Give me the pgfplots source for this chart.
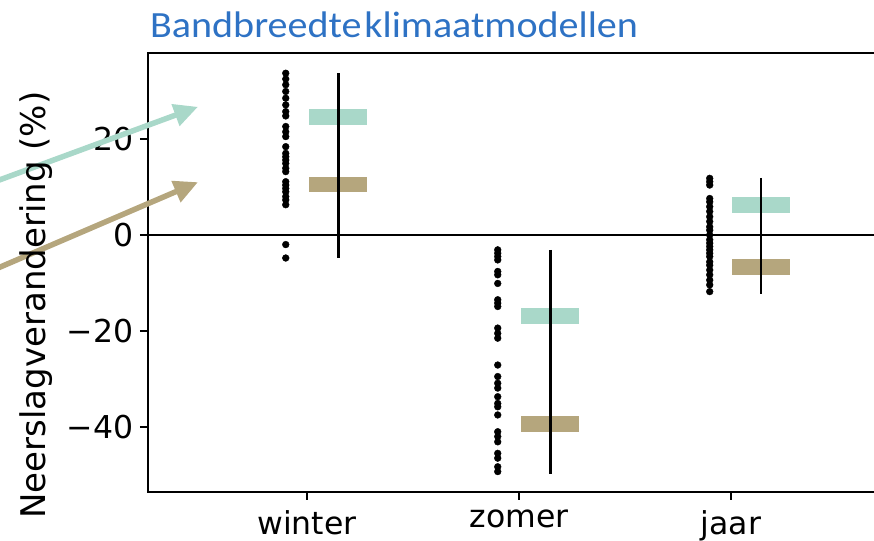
\documentclass[border=0pt]{standalone}
\usepackage{fontspec}
\setmainfont{DejaVu Sans}
\newfontfamily\titlefont{Carlito}
\usepackage{pgfplots}
\pgfplotsset{compat=1.18}
\usetikzlibrary{arrows.meta}
\definecolor{mteal}{RGB}{169,216,201}
\definecolor{mtan}{RGB}{181,166,125}
\definecolor{tblue}{RGB}{46,114,196}
\begin{document}
\begin{tikzpicture}
\begin{axis}[
  scale only axis, width=731.4pt, height=438.7pt,
  xmin=-0.75, xmax=2.7, ymin=-53.5, ymax=37.9,
  xtick={0,1,2}, xticklabels={winter,zomer,jaar},
  ytick={-40,-20,0,20}, yticklabels={−40,−20,0,20},
  tick label style={font=\fontsize{31.5}{38}\selectfont, black},
  /pgf/number format/assume math mode=true,
  axis line style={line width=2pt, black},
  tick style={line width=2pt, black},
  major tick length=8pt, tick align=outside,
  xtick pos=bottom, ytick pos=left,
  yticklabel style={xshift=-3pt},
  xticklabel style={yshift=-7pt},
  clip=false,
]
% zero line
\addplot[black, line width=2pt] coordinates {(-0.75,0) (2.7,0)};
% dots
\addplot[only marks, mark=*, mark size=3.4pt, black] coordinates {
(-0.1,33.7) (-0.1,32.5) (-0.1,31.3) (-0.1,29.9) (-0.1,28.5) (-0.1,27.1) (-0.1,25.7) (-0.1,24.8)
(-0.1,22.6) (-0.1,21.5) (-0.1,20.5) (-0.1,18.4) (-0.1,17.0) (-0.1,16.3) (-0.1,15.6) (-0.1,14.9)
(-0.1,13.9) (-0.1,13.2) (-0.1,11.1) (-0.1,10.4) (-0.1,9.7) (-0.1,9.0) (-0.1,8.0) (-0.1,7.3)
(-0.1,6.3) (-0.1,-2.0) (-0.1,-4.8)};
\addplot[only marks, mark=*, mark size=3.4pt, black] coordinates {
(0.9,-3.1) (0.9,-3.8) (0.9,-4.5) (0.9,-5.2) (0.9,-7.6) (0.9,-8.3) (0.9,-10.1) (0.9,-13.5)
(0.9,-14.2) (0.9,-14.9) (0.9,-19.4) (0.9,-20.5) (0.9,-21.5) (0.9,-27.1) (0.9,-29.5) (0.9,-30.9)
(0.9,-31.9) (0.9,-33.7) (0.9,-35.1) (0.9,-35.8) (0.9,-37.5) (0.9,-41.0) (0.9,-42.0) (0.9,-43.1)
(0.9,-45.5) (0.9,-46.5) (0.9,-48.3) (0.9,-49.3)};
\addplot[only marks, mark=*, mark size=3.4pt, black] coordinates {
(1.9,11.8) (1.9,11.1) (1.9,10.4) (1.9,7.6) (1.9,6.9) (1.9,5.9) (1.9,4.9) (1.9,3.8)
(1.9,2.8) (1.9,1.7) (1.9,1.0) (1.9,0.0) (1.9,-1.0) (1.9,-1.7) (1.9,-2.4) (1.9,-3.1)
(1.9,-3.8) (1.9,-4.5) (1.9,-5.6) (1.9,-6.3) (1.9,-7.3) (1.9,-8.3) (1.9,-9.4) (1.9,-10.4) (1.9,-11.8)};
% bars
\addplot[draw=none, fill=mteal] coordinates {(0.01,22.85) (0.285,22.85) (0.285,26.15) (0.01,26.15)} -- cycle;
\addplot[draw=none, fill=mtan] coordinates {(0.01,8.85) (0.285,8.85) (0.285,12.15) (0.01,12.15)} -- cycle;
\addplot[draw=none, fill=mteal] coordinates {(1.01,-18.45) (1.285,-18.45) (1.285,-15.15) (1.01,-15.15)} -- cycle;
\addplot[draw=none, fill=mtan] coordinates {(1.01,-40.95) (1.285,-40.95) (1.285,-37.65) (1.01,-37.65)} -- cycle;
\addplot[draw=none, fill=mteal] coordinates {(2.005,4.6) (2.28,4.6) (2.28,7.9) (2.005,7.9)} -- cycle;
\addplot[draw=none, fill=mtan] coordinates {(2.005,-8.35) (2.28,-8.35) (2.28,-5.05) (2.005,-5.05)} -- cycle;
% ranges
\addplot[black, line width=2.6pt] coordinates {(0.148,33.7) (0.148,-4.8)};
\addplot[black, line width=2.6pt] coordinates {(1.148,-3.1) (1.148,-49.7)};
\addplot[black, line width=2.6pt] coordinates {(2.142,11.9) (2.142,-12.4)};
% arrows
\draw[-{Triangle[length=24pt,width=22pt]}, line width=5.5pt, mteal] (axis cs:-1.6,9.03) -- (axis cs:-0.514,26.7);
\draw[-{Triangle[length=24pt,width=22pt]}, line width=5.5pt, mtan] (axis cs:-1.6,-9.58) -- (axis cs:-0.514,11.0);
% labels
\node[rotate=90, font=\fontsize{34}{40}\selectfont] at (axis cs:-1.278,-14.6) {Neerslagverandering (\%)};
\node[anchor=base west, inner sep=0pt, xscale=1.083, text=tblue, font=\titlefont\fontsize{37}{44}\selectfont] at (axis cs:-0.7406,41.19) {Bandbreedte\hspace{2.6pt}klimaatmodellen};
\coordinate (bbA) at (axis cs:-1.448,48.96);
\coordinate (bbB) at (axis cs:2.675,-63.75);
\end{axis}
\pgfresetboundingbox
\path[use as bounding box] (bbA) rectangle (bbB);
\end{tikzpicture}
\end{document}
